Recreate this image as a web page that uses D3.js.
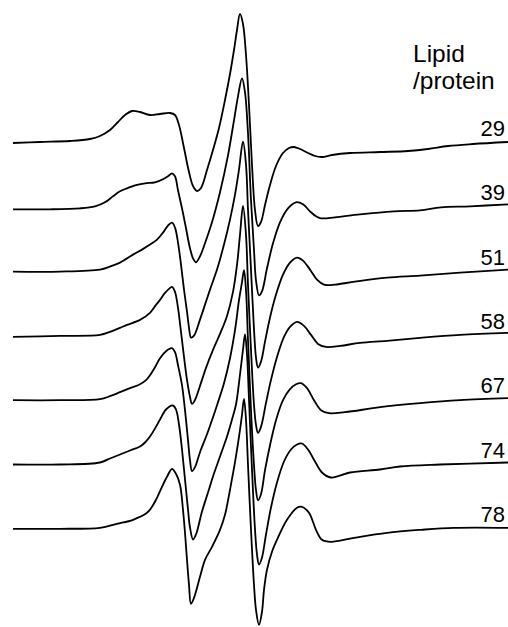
<!DOCTYPE html>
<html>
<head>
<meta charset="utf-8">
<script src="https://cdn.jsdelivr.net/npm/d3@7"></script>
<style>
  html, body { margin: 0; padding: 0; background: #fff; }
  svg { display: block; }
  text { font-family: "Liberation Sans", Arial, sans-serif; fill: #000; }
</style>
</head>
<body>
<div id="chart"></div>
<script>
// Lipid/protein ratios (one spectrum per ratio), top to bottom
const ratios = ["29", "39", "51", "58", "67", "74", "78"];
const titleLines = ["Lipid", "/protein"];

const spec29 = [[0,0],[27,1],[57,2],[77,4],[87,7],[97,13],[105,21],[112,28],[119,32],[127,31],[137,28],[147,29],[157,30],[162,28],[166,18],[171,-5],[176,-29],[180,-43],[184,-48],[188,-45],[194,-27],[200,-7],[206,15],[212,43],[217,69],[221,93],[224,113],[227,129],[230,119],[233,88],[236,38],[239,-22],[242,-67],[245,-83],[248,-79],[252,-62],[257,-42],[263,-23],[270,-10],[276,-5],[281,-4],[287,-6],[295,-10],[302,-13],[309,-14],[319,-12],[337,-10],[367,-9],[395,-8],[415,-6],[435,-3],[460,-1],[495,1]];
const spec39 = [[0,-2],[37,-2],[67,-1],[82,1],[92,5],[100,11],[107,16],[114,19],[122,22],[132,24],[142,25],[150,28],[155,31],[159,34],[162,31],[165,17],[169,-1],[173,-21],[177,-41],[180,-51],[183,-55],[187,-49],[192,-36],[199,-15],[207,15],[215,52],[221,87],[225,111],[229,129],[232,115],[235,74],[238,7],[241,-43],[243,-73],[246,-88],[249,-84],[254,-61],[260,-36],[267,-15],[275,-1],[283,5],[290,3],[297,-4],[303,-9],[308,-11],[322,-10],[347,-7],[381,-4],[407,-3],[428,0],[457,1],[495,3]];
const spec51 = [[0,0],[47,0],[87,2],[97,5],[107,9],[120,17],[129,22],[137,27],[144,32],[150,39],[155,46],[159,49],[162,44],[165,29],[168,7],[171,-18],[174,-40],[176,-56],[178,-66],[181,-64],[187,-48],[192,-33],[197,-18],[204,2],[211,27],[217,52],[222,77],[226,102],[230,130],[233,107],[235,62],[238,2],[241,-58],[243,-86],[245,-96],[248,-90],[252,-70],[257,-46],[263,-23],[270,-3],[277,9],[284,14],[290,11],[297,2],[304,-8],[311,-13],[322,-13],[342,-10],[374,-6],[407,-4],[447,-1],[495,2]];
const spec58 = [[0,-1],[47,0],[87,1],[97,4],[107,8],[114,11],[127,16],[137,23],[143,31],[147,36],[152,43],[156,47],[159,49],[162,44],[165,28],[168,4],[171,-21],[174,-44],[177,-61],[179,-68],[182,-64],[187,-50],[193,-32],[200,-14],[207,2],[214,20],[220,44],[224,71],[227,101],[230,130],[233,101],[235,51],[238,-14],[241,-69],[243,-89],[245,-97],[248,-91],[253,-67],[258,-44],[264,-21],[271,-1],[277,9],[284,14],[291,10],[298,1],[305,-8],[313,-11],[327,-10],[347,-7],[374,-5],[407,-2],[447,1],[495,3]];
const spec67 = [[0,0],[47,0],[87,1],[97,4],[107,8],[117,12],[127,16],[133,20],[137,25],[142,33],[147,42],[153,49],[159,52],[162,48],[165,35],[169,15],[172,-10],[175,-40],[177,-60],[179,-71],[182,-67],[187,-52],[194,-34],[200,-17],[205,-2],[211,17],[217,42],[222,70],[226,100],[229,118],[231,130],[233,110],[235,60],[238,-10],[241,-65],[243,-90],[245,-100],[248,-94],[252,-70],[257,-45],[263,-20],[270,0],[277,11],[283,16],[288,17],[294,12],[301,0],[308,-10],[316,-13],[332,-12],[367,-7],[407,-3],[447,0],[495,2]];
const spec74 = [[0,0],[47,0],[87,2],[97,6],[107,10],[117,14],[127,18],[132,22],[137,28],[142,36],[147,45],[153,55],[160,59],[163,55],[166,40],[169,15],[172,-15],[175,-45],[177,-63],[180,-75],[183,-70],[189,-47],[195,-28],[200,-12],[207,8],[214,28],[219,45],[223,60],[227,90],[230,115],[232,130],[234,110],[236,65],[239,-5],[242,-65],[244,-90],[246,-100],[249,-93],[253,-70],[258,-43],[264,-18],[271,3],[278,15],[284,20],[289,21],[295,15],[302,3],[309,-8],[318,-13],[337,-8],[367,-5],[387,-2],[427,0],[495,2]];
const spec78 = [[0,0],[47,0],[87,1],[104,5],[120,9],[134,16],[139,22],[144,31],[149,42],[154,52],[159,60],[163,55],[167,44],[170,19],[172,-4],[174,-31],[176,-56],[178,-75],[181,-69],[187,-48],[192,-31],[199,-18],[207,-1],[212,14],[217,39],[221,61],[224,79],[227,99],[229,114],[231,130],[233,109],[235,64],[238,-1],[241,-56],[243,-81],[246,-96],[249,-83],[251,-61],[254,-41],[259,-23],[264,-11],[274,9],[284,21],[289,22],[296,16],[303,-1],[309,-11],[318,-13],[341,-9],[374,-4],[408,-1],[441,1],[495,1]];

const spectra = [spec29, spec39, spec51, spec58, spec67, spec74, spec78];

const W = 508, H = 627;
const svg = d3.select("#chart").append("svg")
  .attr("width", W).attr("height", H)
  .attr("viewBox", `0 0 ${W} ${H}`);

const x = d3.scaleLinear().domain([0, 495]).range([13, 508]);
const amp = d3.scaleLinear().domain([0, 130]).range([0, -130]);
const offset = d3.scaleLinear().domain([0, ratios.length - 1]).range([143, 528.8]);

const line = d3.line()
  .x(d => x(d[0]))
  .y(d => d.base + amp(d[1]))
  .curve(d3.curveCatmullRom.alpha(0.5));

const g = svg.append("g");
spectra.forEach((s, i) => {
  const pts = s.map(p => { const q = [p[0], p[1]]; q.base = offset(i); return q; });
  g.append("path")
    .attr("d", line(pts))
    .attr("fill", "none")
    .attr("stroke", "#000")
    .attr("stroke-width", 1.8)
    .attr("stroke-linejoin", "round");
});

// ratio labels
svg.append("g").selectAll("text")
  .data(ratios)
  .join("text")
  .attr("x", 505)
  .attr("y", (d, i) => offset(i) - 7)
  .attr("text-anchor", "end")
  .attr("font-size", 22)
  .text(d => d);

// header
svg.append("g").selectAll("text")
  .data(titleLines)
  .join("text")
  .attr("x", 413)
  .attr("y", (d, i) => 62 + i * 27)
  .attr("font-size", 24.5)
  .text(d => d);
</script>
</body>
</html>
